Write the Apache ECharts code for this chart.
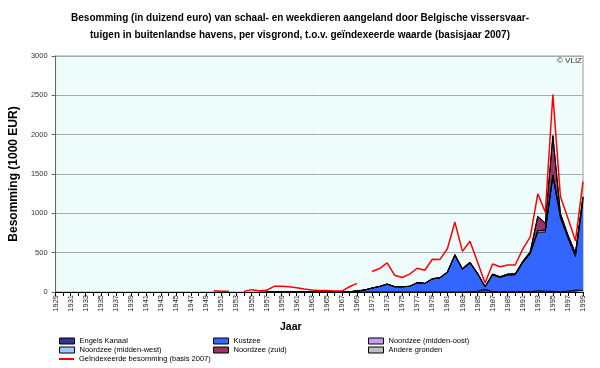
<!DOCTYPE html>
<html>
<head>
<meta charset="utf-8">
<script src="https://cdn.jsdelivr.net/npm/echarts@6/dist/echarts.min.js"></script>
<style>html,body{margin:0;padding:0;background:#fff}#c{width:600px;height:368px}</style>
</head>
<body>
<div id="c"></div>
<script>
// Years 1929..1999
var years = [];
for (var y = 1929; y <= 1999; y++) years.push(String(y));

// stacked values from 1957 onward (earlier years: no data)
var engelsKanaal = [0,0,0,0,0,0,0,0,0,0,0, 0,0,0,0,0,0,0,0,0,0,0,0,0,0,0,0,0,3,10,35,5,3,3,3,5,5,15,10,8,5,10,25,20];
var kustzee      = [0,0,0,0,0,0,0,0,0,0,0, 3,13,25,50,70,100,68,67,72,118,108,166,178,250,466,288,367,222,30,213,182,215,214,365,480,745,750,1460,935,670,425,1135];
var nzMiddenOost = [0,0,0,0,0,0,0,0,0,0,0, 0,0,0,0,0,0,0,0,0,0,0,0,0,0,0,0,0,0,0,0,0,0,5,5,10,20,25,20,30,30,35,40];
var nzMiddenWest = [0,0,0,0,0,0,0,0,0,0,0, 0,0,0,0,0,0,0,0,0,0,0,0,0,0,0,0,0,0,0,0,0,0,0,0,0,0,0,0,0,0,0,0];
var nzZuid       = [0,0,0,0,0,0,0,0,0,0,0, 0,0,0,0,0,0,0,0,0,2,2,4,4,6,10,8,10,8,5,10,10,10,10,15,20,180,90,490,25,12,8,12];
var andereGronden= [0,0,0,0,0,0,0,0,0,0,0, 0,0,0,0,0,0,0,0,0,0,0,0,0,0,0,0,0,0,0,0,0,0,0,0,0,0,0,12,7,5,2,6];
// indexed value 1950..1999
var geindexeerd  = [15,10,8,null,8,30,17,21,72,72,66,55,38,25,20,18,12,12,67,109,null,260,298,370,214,185,227,302,277,416,412,550,889,516,645,380,115,355,320,343,343,545,700,1247,1014,2511,1213,938,651,1403];

var yTicks = [0, 500, 1000, 1500, 2000, 2500, 3000];

function pad(arr, startYear) {
  var out = [];
  for (var y = 1929; y < startYear; y++) out.push(null);
  return out.concat(arr);
}
function padStack(arr){ return pad(arr, 1999 - arr.length + 1); }

var names = ['Engels Kanaal','Kustzee','Noordzee (midden-oost)','Noordzee (midden-west)','Noordzee (zuid)','Andere gronden'];
var colors = ['#333399','#3366ff','#cc99ff','#99ccff','#993366','#c0c0c0'];
var stacks = [engelsKanaal, kustzee, nzMiddenOost, nzMiddenWest, nzZuid, andereGronden];

var series = stacks.map(function(d, i){
  return {
    name: names[i], type: 'line', stack: 'tot', data: padStack(d),
    symbol: 'none', connectNulls: false,
    lineStyle: {color: '#000', width: 1},
    itemStyle: {color: colors[i], borderColor: '#000', borderWidth: 1},
    areaStyle: {color: colors[i], opacity: 1},
    z: 2
  };
});
series.push({
  name: 'Geïndexeerde besomming (basis 2007)', type: 'line', data: pad(geindexeerd, 1950),
  symbol: 'none', connectNulls: false,
  lineStyle: {color: '#ff0000', width: 1.5},
  itemStyle: {color: '#ff0000'},
  z: 5
});

var legFont = {fontSize: 7.5, fontFamily: 'Liberation Sans, Arial, sans-serif', color: '#000', lineHeight: 9};
function leg(items, left, top, h) {
  return {
    orient: 'vertical', left: left, top: top, padding: 0, itemGap: 0,
    itemWidth: 15, itemHeight: h, icon: 'rect', data: items,
    textStyle: legFont, selectedMode: false,
    itemStyle: {borderColor: '#000', borderWidth: 1}
  };
}

var chart = echarts.init(document.getElementById('c'), null, {renderer: 'canvas'});
chart.setOption({
  animation: false,
  backgroundColor: '#fff',
  title: {
    text: 'Besomming (in duizend euro) van schaal- en weekdieren aangeland door Belgische vissersvaar-\ntuigen in buitenlandse havens, per visgrond, t.o.v. geïndexeerde waarde (basisjaar 2007)',
    left: 'center', top: 10, padding: 0,
    textStyle: {fontSize: 10, fontWeight: 'bold', fontFamily: 'Liberation Sans, Arial, sans-serif', lineHeight: 17, color: '#000', align: 'center'}
  },
  legend: [
    leg(['Engels Kanaal','Noordzee (midden-west)'], 59, 336.5, 6),
    {orient: 'vertical', left: 59, top: 354.5, padding: 0, itemWidth: 15, itemHeight: 2, icon: 'rect',
     data: ['Geïndexeerde besomming (basis 2007)'], textStyle: legFont, selectedMode: false},
    leg(['Kustzee','Noordzee (zuid)'], 213, 336.5, 6),
    leg(['Noordzee (midden-oost)','Andere gronden'], 368, 336.5, 6)
  ],
  grid: {left: 53, right: 17, top: 56, bottom: 76, show: true, backgroundColor: '#effcfc', borderColor: '#999', borderWidth: 1},
  xAxis: {
    type: 'category', data: years, boundaryGap: false,
    axisLine: {lineStyle: {color: '#000', width: 1}},
    axisTick: {interval: 0, length: 4, lineStyle: {color: '#000'}},
    axisLabel: {interval: 1, rotate: 90, fontSize: 7.5, margin: 3, color: '#222', fontFamily: 'Liberation Sans, Arial, sans-serif'},
    splitLine: {show: false}
  },
  yAxis: {
    type: 'value', min: yTicks[0], max: yTicks[yTicks.length-1], interval: 500,
    name: 'Besomming (1000 EUR)', nameLocation: 'middle', nameGap: 27,
    nameTextStyle: {fontSize: 12, fontWeight: 'bold', fontFamily: 'Liberation Sans, Arial, sans-serif', color: '#000'},
    axisLine: {show: true, lineStyle: {color: '#666'}},
    axisTick: {show: true, length: 4, lineStyle: {color: '#666'}},
    axisLabel: {fontSize: 7.5, color: '#333', margin: 8, fontFamily: 'Liberation Sans, Arial, sans-serif',
      formatter: function(v){ return String(v); }},
    splitLine: {lineStyle: {color: '#aaa', width: 1}}
  },
  graphic: [
    {type: 'text', right: 18, top: 57, style: {text: '© VLIZ', fontSize: 8, fill: '#333', fontFamily: 'Liberation Sans, Arial, sans-serif'}},
    {type: 'text', left: 280, top: 322, style: {text: 'Jaar', fontSize: 10.5, fontWeight: 'bold', fill: '#000', align: 'center', fontFamily: 'Liberation Sans, Arial, sans-serif'}}
  ],
  series: series
});
</script>
</body>
</html>
